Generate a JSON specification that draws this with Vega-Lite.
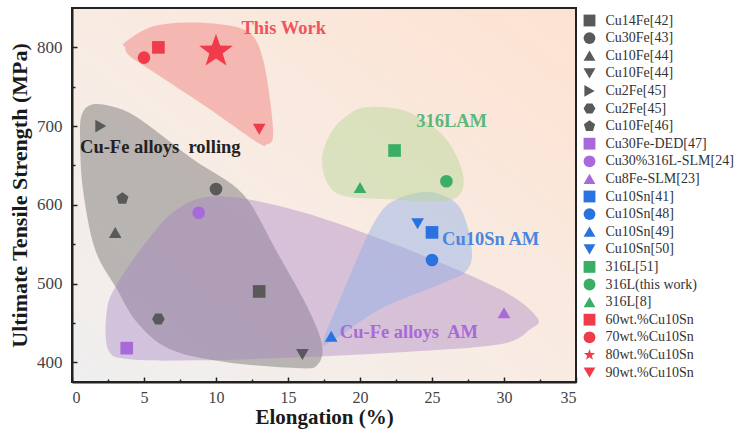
{
  "$schema": "https://vega.github.io/schema/vega-lite/v6.json",
  "autosize": {"type": "none"},
  "width": 504,
  "height": 374,
  "padding": {"left": 72, "top": 8, "right": 163, "bottom": 50},
  "background": "#ffffff",
  "datasets": {
    "points": [
      {"series": "Cu14Fe[42]", "elong": 13, "uts": 490},
      {"series": "Cu30Fe[43]", "elong": 10, "uts": 620},
      {"series": "Cu10Fe[44]", "elong": 3, "uts": 565},
      {"series": "Cu10Fe[44] ", "elong": 16, "uts": 410},
      {"series": "Cu2Fe[45]", "elong": 2, "uts": 700},
      {"series": "Cu2Fe[45] ", "elong": 6, "uts": 455},
      {"series": "Cu10Fe[46]", "elong": 3.5, "uts": 608},
      {"series": "Cu30Fe-DED[47]", "elong": 3.8, "uts": 418},
      {"series": "Cu30%316L-SLM[24]", "elong": 8.8, "uts": 590},
      {"series": "Cu8Fe-SLM[23]", "elong": 30, "uts": 463},
      {"series": "Cu10Sn[41]", "elong": 25, "uts": 565},
      {"series": "Cu10Sn[48]", "elong": 25, "uts": 530},
      {"series": "Cu10Sn[49]", "elong": 18, "uts": 433},
      {"series": "Cu10Sn[50]", "elong": 24, "uts": 576},
      {"series": "316L[51]", "elong": 22.4, "uts": 669},
      {"series": "316L(this work)", "elong": 26, "uts": 630},
      {"series": "316L[8]", "elong": 20, "uts": 622},
      {"series": "60wt.%Cu10Sn", "elong": 6, "uts": 800},
      {"series": "70wt.%Cu10Sn", "elong": 5, "uts": 787},
      {"series": "80wt.%Cu10Sn", "elong": 10, "uts": 795},
      {"series": "90wt.%Cu10Sn", "elong": 13, "uts": 696}
    ],
    "blobs": [
      {"blob": "grey", "i": 0, "elong": 1.46, "uts": 727.6},
      {"blob": "grey", "i": 1, "elong": 2.99, "uts": 723.8},
      {"blob": "grey", "i": 2, "elong": 4.72, "uts": 708.6},
      {"blob": "grey", "i": 3, "elong": 8.4, "uts": 657.8},
      {"blob": "grey", "i": 4, "elong": 11.88, "uts": 613.3},
      {"blob": "grey", "i": 5, "elong": 14.24, "uts": 539.7},
      {"blob": "grey", "i": 6, "elong": 16.32, "uts": 471.1},
      {"blob": "grey", "i": 7, "elong": 17.36, "uts": 422.9},
      {"blob": "grey", "i": 8, "elong": 17.08, "uts": 397.5},
      {"blob": "grey", "i": 9, "elong": 15.83, "uts": 392.4},
      {"blob": "grey", "i": 10, "elong": 10.76, "uts": 400.0},
      {"blob": "grey", "i": 11, "elong": 6.81, "uts": 416.5},
      {"blob": "grey", "i": 12, "elong": 4.51, "uts": 450.8},
      {"blob": "grey", "i": 13, "elong": 3.13, "uts": 492.7},
      {"blob": "grey", "i": 14, "elong": 1.6, "uts": 543.5},
      {"blob": "grey", "i": 15, "elong": 0.76, "uts": 619.7},
      {"blob": "grey", "i": 16, "elong": 0.56, "uts": 683.2},
      {"blob": "grey", "i": 17, "elong": 0.69, "uts": 714.9},
      {"blob": "purple", "i": 0, "elong": 2.5, "uts": 416.5},
      {"blob": "purple", "i": 1, "elong": 2.43, "uts": 467.3},
      {"blob": "purple", "i": 2, "elong": 3.13, "uts": 499.0},
      {"blob": "purple", "i": 3, "elong": 4.93, "uts": 547.3},
      {"blob": "purple", "i": 4, "elong": 7.29, "uts": 594.3},
      {"blob": "purple", "i": 5, "elong": 10.28, "uts": 610.8},
      {"blob": "purple", "i": 6, "elong": 15.83, "uts": 591.7},
      {"blob": "purple", "i": 7, "elong": 22.78, "uts": 547.3},
      {"blob": "purple", "i": 8, "elong": 29.72, "uts": 492.7},
      {"blob": "purple", "i": 9, "elong": 32.29, "uts": 457.1},
      {"blob": "purple", "i": 10, "elong": 31.81, "uts": 441.9},
      {"blob": "purple", "i": 11, "elong": 29.72, "uts": 422.9},
      {"blob": "purple", "i": 12, "elong": 22.78, "uts": 412.7},
      {"blob": "purple", "i": 13, "elong": 15.83, "uts": 406.4},
      {"blob": "purple", "i": 14, "elong": 8.89, "uts": 402.5},
      {"blob": "purple", "i": 15, "elong": 4.03, "uts": 403.8},
      {"blob": "blue", "i": 0, "elong": 17.43, "uts": 425.4},
      {"blob": "blue", "i": 1, "elong": 18.61, "uts": 480.0},
      {"blob": "blue", "i": 2, "elong": 20.49, "uts": 560.0},
      {"blob": "blue", "i": 3, "elong": 21.6, "uts": 594.3},
      {"blob": "blue", "i": 4, "elong": 22.57, "uts": 607.0},
      {"blob": "blue", "i": 5, "elong": 23.82, "uts": 614.6},
      {"blob": "blue", "i": 6, "elong": 25.07, "uts": 615.9},
      {"blob": "blue", "i": 7, "elong": 26.6, "uts": 603.2},
      {"blob": "blue", "i": 8, "elong": 27.36, "uts": 579.0},
      {"blob": "blue", "i": 9, "elong": 27.78, "uts": 537.1},
      {"blob": "blue", "i": 10, "elong": 27.29, "uts": 514.3},
      {"blob": "blue", "i": 11, "elong": 25.56, "uts": 499.0},
      {"blob": "blue", "i": 12, "elong": 21.39, "uts": 467.3},
      {"blob": "blue", "i": 13, "elong": 18.26, "uts": 429.2},
      {"blob": "green", "i": 0, "elong": 17.36, "uts": 657.8},
      {"blob": "green", "i": 1, "elong": 17.92, "uts": 689.5},
      {"blob": "green", "i": 2, "elong": 18.96, "uts": 711.1},
      {"blob": "green", "i": 3, "elong": 20.35, "uts": 723.8},
      {"blob": "green", "i": 4, "elong": 22.78, "uts": 721.3},
      {"blob": "green", "i": 5, "elong": 24.86, "uts": 702.2},
      {"blob": "green", "i": 6, "elong": 26.25, "uts": 676.8},
      {"blob": "green", "i": 7, "elong": 27.15, "uts": 638.7},
      {"blob": "green", "i": 8, "elong": 26.94, "uts": 613.3},
      {"blob": "green", "i": 9, "elong": 25.56, "uts": 604.4},
      {"blob": "green", "i": 10, "elong": 22.08, "uts": 607.0},
      {"blob": "green", "i": 11, "elong": 18.96, "uts": 610.8},
      {"blob": "green", "i": 12, "elong": 17.78, "uts": 626.0},
      {"blob": "red", "i": 0, "elong": 3.68, "uts": 806.3},
      {"blob": "red", "i": 1, "elong": 5.63, "uts": 826.7},
      {"blob": "red", "i": 2, "elong": 8.4, "uts": 831.7},
      {"blob": "red", "i": 3, "elong": 11.18, "uts": 826.7},
      {"blob": "red", "i": 4, "elong": 12.57, "uts": 814.0},
      {"blob": "red", "i": 5, "elong": 13.26, "uts": 784.8},
      {"blob": "red", "i": 6, "elong": 13.75, "uts": 734.0},
      {"blob": "red", "i": 7, "elong": 13.96, "uts": 687.0},
      {"blob": "red", "i": 8, "elong": 13.54, "uts": 676.8},
      {"blob": "red", "i": 9, "elong": 12.85, "uts": 679.4},
      {"blob": "red", "i": 10, "elong": 9.58, "uts": 721.3},
      {"blob": "red", "i": 11, "elong": 6.11, "uts": 763.2},
      {"blob": "red", "i": 12, "elong": 4.03, "uts": 788.6},
      {"blob": "red", "i": 13, "elong": 3.68, "uts": 800.0}
    ],
    "labels": [
      {"group": "red", "text": "This Work", "elong": 14.7, "uts": 825},
      {"group": "grey", "text": "Cu-Fe alloys\u00a0 rolling", "elong": 0.56, "uts": 673},
      {"group": "green", "text": "316LAM", "elong": 23.9, "uts": 707},
      {"group": "blue", "text": "Cu10Sn AM", "elong": 25.7, "uts": 556},
      {"group": "purple", "text": "Cu-Fe alloys\u00a0 AM", "elong": 18.6, "uts": 438}
    ]
  },
  "encoding": {
    "x": {
      "field": "elong", "type": "quantitative",
      "scale": {"domain": [0, 35], "nice": false, "zero": false},
      "axis": {
        "title": "Elongation (%)",
        "values": [0, 2.5, 5, 7.5, 10, 12.5, 15, 17.5, 20, 22.5, 25, 27.5, 30, 32.5, 35],
        "labelExpr": "datum.value % 5 === 0 ? datum.label : ''",
        "tickSize": {"condition": {"test": "datum.value % 5 !== 0", "value": -3}, "value": -5},
        "labelPadding": 12,
        "labelFontSize": 16,
        "titleFontSize": 21,
        "titlePadding": 1
      }
    },
    "y": {
      "field": "uts", "type": "quantitative",
      "scale": {"domain": [375, 850], "nice": false, "zero": false},
      "axis": {
        "title": "Ultimate Tensile Strength (MPa)",
        "values": [400, 450, 500, 550, 600, 650, 700, 750, 800],
        "labelExpr": "datum.value % 100 === 0 ? datum.label : ''",
        "tickSize": {"condition": {"test": "datum.value % 100 !== 0", "value": -3}, "value": -5},
        "labelPadding": 15,
        "titlePadding": 5
      }
    }
  },
  "layer": [
    {
      "data": {"name": "blobs"},
      "transform": [{"filter": "datum.blob === 'grey'"}],
      "mark": {"type": "line", "interpolate": "cardinal-closed", "fill": "#6e6e6e", "fillOpacity": 0.45, "strokeOpacity": 0},
      "encoding": {"order": {"field": "i", "type": "quantitative"}}
    },
    {
      "data": {"name": "blobs"},
      "transform": [{"filter": "datum.blob === 'purple'"}],
      "mark": {"type": "line", "interpolate": "cardinal-closed", "fill": "#a27cc2", "fillOpacity": 0.38, "strokeOpacity": 0},
      "encoding": {"order": {"field": "i", "type": "quantitative"}}
    },
    {
      "data": {"name": "blobs"},
      "transform": [{"filter": "datum.blob === 'blue'"}],
      "mark": {"type": "line", "interpolate": "cardinal-closed", "fill": "#8fb0e8", "fillOpacity": 0.45, "strokeOpacity": 0},
      "encoding": {"order": {"field": "i", "type": "quantitative"}}
    },
    {
      "data": {"name": "blobs"},
      "transform": [{"filter": "datum.blob === 'green'"}],
      "mark": {"type": "line", "interpolate": "cardinal-closed", "fill": "#b4d894", "fillOpacity": 0.45, "strokeOpacity": 0},
      "encoding": {"order": {"field": "i", "type": "quantitative"}}
    },
    {
      "data": {"name": "blobs"},
      "transform": [{"filter": "datum.blob === 'red'"}],
      "mark": {"type": "line", "interpolate": "cardinal-closed", "fill": "#f07a7a", "fillOpacity": 0.45, "strokeOpacity": 0},
      "encoding": {"order": {"field": "i", "type": "quantitative"}}
    },
    {
      "data": {"name": "points"},
      "transform": [{"filter": "datum.series !== '80wt.%Cu10Sn'"}],
      "mark": {"type": "point", "filled": true, "opacity": 1, "size": 160, "strokeWidth": 0},
      "encoding": {
        "color": {
          "field": "series", "type": "nominal",
          "scale": {
            "domain": ["Cu14Fe[42]", "Cu30Fe[43]", "Cu10Fe[44]", "Cu10Fe[44] ", "Cu2Fe[45]", "Cu2Fe[45] ", "Cu10Fe[46]", "Cu30Fe-DED[47]", "Cu30%316L-SLM[24]", "Cu8Fe-SLM[23]", "Cu10Sn[41]", "Cu10Sn[48]", "Cu10Sn[49]", "Cu10Sn[50]", "316L[51]", "316L(this work)", "316L[8]", "60wt.%Cu10Sn", "70wt.%Cu10Sn", "80wt.%Cu10Sn", "90wt.%Cu10Sn"],
            "range": ["#595959", "#595959", "#595959", "#595959", "#595959", "#595959", "#595959", "#a86ad9", "#a86ad9", "#a86ad9", "#2a72e0", "#2a72e0", "#2a72e0", "#2a72e0", "#3aae64", "#3aae64", "#3aae64", "#f03c4a", "#f03c4a", "#f03c4a", "#f03c4a"]
          },
          "legend": {"title": null, "labelFont": "Liberation Serif", "labelFontSize": 14}
        },
        "shape": {
          "field": "series", "type": "nominal",
          "scale": {
            "domain": ["Cu14Fe[42]", "Cu30Fe[43]", "Cu10Fe[44]", "Cu10Fe[44] ", "Cu2Fe[45]", "Cu2Fe[45] ", "Cu10Fe[46]", "Cu30Fe-DED[47]", "Cu30%316L-SLM[24]", "Cu8Fe-SLM[23]", "Cu10Sn[41]", "Cu10Sn[48]", "Cu10Sn[49]", "Cu10Sn[50]", "316L[51]", "316L(this work)", "316L[8]", "60wt.%Cu10Sn", "70wt.%Cu10Sn", "80wt.%Cu10Sn", "90wt.%Cu10Sn"],
            "range": ["square", "circle", "triangle-up", "triangle-down", "triangle-right", "M-1,0L-0.5,-0.866L0.5,-0.866L1,0L0.5,0.866L-0.5,0.866Z", "M0,-1L0.951,-0.309L0.588,0.809L-0.588,0.809L-0.951,-0.309Z", "square", "circle", "triangle-up", "square", "circle", "triangle-up", "triangle-down", "square", "circle", "triangle-up", "square", "circle", "M0,-1L0.235,-0.324L0.951,-0.309L0.38,0.124L0.588,0.809L0,0.4L-0.588,0.809L-0.38,0.124L-0.951,-0.309L-0.235,-0.324Z", "triangle-down"]
          },
          "legend": {"title": null, "labelFont": "Liberation Serif", "labelFontSize": 14}
        }
      }
    },
    {
      "data": {"name": "points"},
      "transform": [{"filter": "datum.series === '80wt.%Cu10Sn'"}],
      "mark": {"type": "point", "filled": true, "opacity": 1, "size": 1250, "strokeWidth": 0},
      "encoding": {
        "color": {"field": "series", "type": "nominal", "legend": {"title": null}},
        "shape": {"field": "series", "type": "nominal", "legend": {"title": null}}
      }
    },
    {
      "data": {"name": "labels"},
      "transform": [{"filter": "datum.group === 'red'"}],
      "mark": {"type": "text", "align": "center", "baseline": "middle", "font": "Liberation Serif", "fontWeight": "bold", "fontSize": 18.5, "color": "#f2545e"},
      "encoding": {"text": {"field": "text"}}
    },
    {
      "data": {"name": "labels"},
      "transform": [{"filter": "datum.group === 'grey'"}],
      "mark": {"type": "text", "align": "left", "baseline": "middle", "font": "Liberation Serif", "fontWeight": "bold", "fontSize": 18.5, "color": "#222222"},
      "encoding": {"text": {"field": "text"}}
    },
    {
      "data": {"name": "labels"},
      "transform": [{"filter": "datum.group === 'green'"}],
      "mark": {"type": "text", "align": "left", "baseline": "middle", "font": "Liberation Serif", "fontWeight": "bold", "fontSize": 18.5, "color": "#5cb87a"},
      "encoding": {"text": {"field": "text"}}
    },
    {
      "data": {"name": "labels"},
      "transform": [{"filter": "datum.group === 'blue'"}],
      "mark": {"type": "text", "align": "left", "baseline": "middle", "font": "Liberation Serif", "fontWeight": "bold", "fontSize": 18.5, "color": "#4a86de"},
      "encoding": {"text": {"field": "text"}}
    },
    {
      "data": {"name": "labels"},
      "transform": [{"filter": "datum.group === 'purple'"}],
      "mark": {"type": "text", "align": "left", "baseline": "middle", "font": "Liberation Serif", "fontWeight": "bold", "fontSize": 18.5, "color": "#a86ad9"},
      "encoding": {"text": {"field": "text"}}
    }
  ],
  "config": {
    "view": {
      "stroke": "#222222",
      "strokeWidth": 2,
      "fill": {
        "gradient": "linear", "x1": 0, "y1": 1, "x2": 1, "y2": 0,
        "stops": [
          {"offset": 0, "color": "#efefef"},
          {"offset": 0.45, "color": "#f8ece4"},
          {"offset": 1, "color": "#fde2d1"}
        ]
      }
    },
    "axis": {
      "grid": false,
      "labelFont": "Liberation Serif",
      "labelFontSize": 17,
      "labelColor": "#444444",
      "titleFont": "Liberation Serif",
      "titleFontSize": 22,
      "titleFontWeight": "bold",
      "titleColor": "#1a1a1a",
      "domainColor": "#222222",
      "domainWidth": 2,
      "tickColor": "#222222",
      "tickWidth": 1.5
    },
    "legend": {
      "labelFont": "Liberation Serif",
      "labelFontSize": 14,
      "labelColor": "#333333",
      "symbolSize": 140,
      "symbolStrokeWidth": 0,
      "symbolOpacity": 1,
      "rowPadding": 3.6,
      "labelOffset": 9,
      "offset": 1,
      "padding": 5.5
    }
  }
}
